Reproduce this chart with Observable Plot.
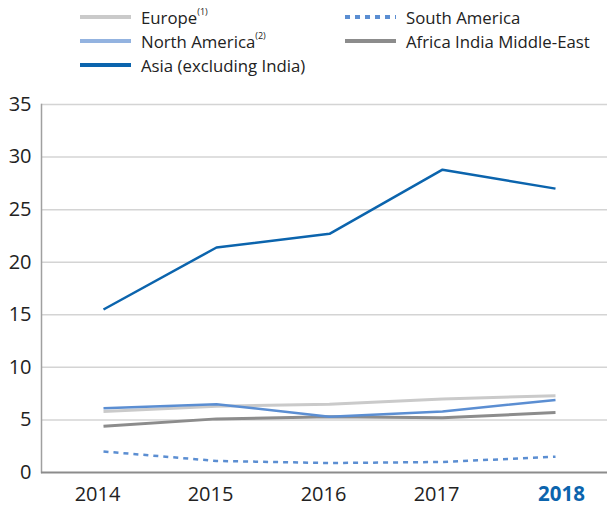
<!DOCTYPE html>
<html>
<head>
<meta charset="utf-8">
<script src="https://cdn.jsdelivr.net/npm/d3@7"></script>
<script src="https://cdn.jsdelivr.net/npm/@observablehq/plot@0.6"></script>
<style>
  html, body { margin: 0; padding: 0; background: #fff; }
  body { width: 607px; height: 514px; position: relative; font-family: "Open Sans", sans-serif; overflow: hidden; }
  #legend { position: absolute; left: 0; top: 0; width: 607px; height: 85px; }
  .item { position: absolute; display: flex; align-items: center; font-size: 16.8px; color: #222; white-space: nowrap; }
  .item svg { margin-right: 10px; }
  .item sup { font-size: 9px; position: relative; top: -2px; }
  #chart { position: absolute; left: 0; top: 85px; }
</style>
</head>
<body>
<div id="legend"></div>
<div id="chart"></div>
<script>
const years = [2014, 2015, 2016, 2017, 2018];
const europe = [5.8, 6.3, 6.5, 7.0, 7.3];
const northAmerica = [6.1, 6.5, 5.3, 5.8, 6.9];
const asia = [15.5, 21.4, 22.7, 28.8, 27.0];
const southAmerica = [2.0, 1.1, 0.9, 1.0, 1.5];
const africaIndiaME = [4.4, 5.1, 5.3, 5.2, 5.7];
const yTicks = [0, 5, 10, 15, 20, 25, 30, 35];
const xTickLabels = ["2014", "2015", "2016", "2017", "2018"];

const seriesNames = ["Europe", "North America", "Asia (excluding India)", "South America", "Africa India Middle-East"];
const seriesSup = ["(1)", "(2)", "", "", ""];

const styles = {
  "Europe": {stroke: "#cacaca", legend: "#cacaca", width: 3, dash: null},
  "North America": {stroke: "#5b8ed2", legend: "#93b3e0", width: 2.5, dash: null},
  "Asia (excluding India)": {stroke: "#0b64ad", legend: "#0b64ad", width: 2.5, dash: null},
  "South America": {stroke: "#5b8ed2", legend: "#5b8ed2", width: 2.5, dash: "5,5"},
  "Africa India Middle-East": {stroke: "#8c8c8c", legend: "#8c8c8c", width: 3, dash: null}
};

const values = {
  "Europe": europe,
  "North America": northAmerica,
  "Asia (excluding India)": asia,
  "South America": southAmerica,
  "Africa India Middle-East": africaIndiaME
};

const drawOrder = ["Europe", "Africa India Middle-East", "North America", "South America", "Asia (excluding India)"];

function rows(name) {
  return years.map((y, i) => ({year: y, value: values[name][i], series: name}));
}

// Legend (HTML)
const legendPos = [
  {left: 80, top: 17}, {left: 80, top: 41}, {left: 80, top: 65},
  {left: 345, top: 17}, {left: 345, top: 41}
];
const legend = document.getElementById("legend");
seriesNames.forEach((name, i) => {
  const s = styles[name];
  const div = document.createElement("div");
  div.className = "item";
  div.style.left = legendPos[i].left + "px";
  div.style.top = (legendPos[i].top - 11) + "px";
  div.style.height = "22px";
  const dash = s.dash ? `stroke-dasharray="5,5"` : "";
  div.innerHTML = `<svg width="51" height="8"><line x1="0" x2="51" y1="4" y2="4" stroke="${s.legend}" stroke-width="4" ${dash}/></svg><span>${name}${seriesSup[i] ? "<sup>" + seriesSup[i] + "</sup>" : ""}</span>`;
  legend.appendChild(div);
});

const lineMarks = drawOrder.map(name => Plot.line(rows(name), {
  x: "year", y: "value",
  stroke: styles[name].stroke,
  strokeWidth: styles[name].width,
  strokeDasharray: styles[name].dash,
  strokeLinejoin: "miter",
  strokeLinecap: "butt"
}));

const labelRows = years.map((y, i) => ({year: y, label: xTickLabels[i]}));

const chart = Plot.plot({
  width: 607,
  height: 429,
  marginLeft: 41,
  marginRight: 0,
  marginTop: 19,
  marginBottom: 42,
  style: {fontFamily: "'Open Sans', sans-serif", background: "#fff", overflow: "visible"},
  x: {type: "point", domain: years, range: [102, 556], padding: 0, axis: null},
  y: {domain: [0, 35], axis: null},
  marks: [
    Plot.gridY(yTicks.filter(t => t > 0), {stroke: "#d4d4d4", strokeOpacity: 1, strokeWidth: 1.5}),
    Plot.frame({anchor: "left", stroke: "#a0a0a0", strokeWidth: 1.5}),
    Plot.ruleY([0], {stroke: "#8c8c8c", strokeWidth: 2}),
    Plot.axisY(yTicks, {tickSize: 0, tickPadding: 10, fontSize: 20, fill: "#222", label: null}),
    Plot.text(labelRows.filter(d => d.year !== 2018), {x: "year", text: "label", frameAnchor: "bottom", dy: 28, dx: -6, fontSize: 20, fill: "#222"}),
    Plot.text(labelRows.filter(d => d.year === 2018), {x: "year", text: "label", frameAnchor: "bottom", dy: 28, dx: 6, fontSize: 20.5, fill: "#0b64ad", fontWeight: "bold"}),
    ...lineMarks
  ]
});
document.getElementById("chart").appendChild(chart);
</script>
</body>
</html>
